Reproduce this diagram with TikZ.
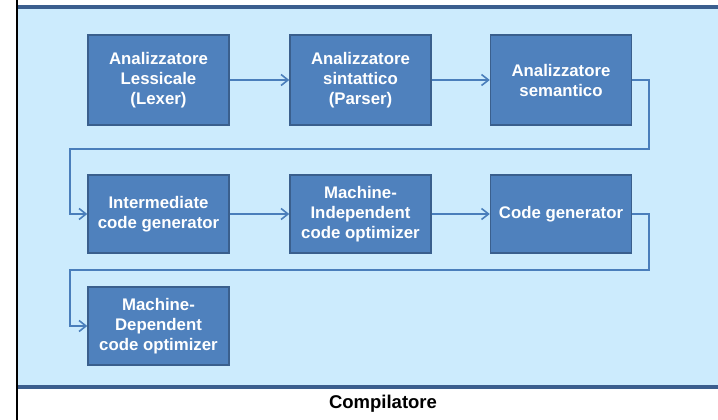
\documentclass[tikz,border=0pt]{standalone}
\usepackage{fontspec}
\setmainfont{Liberation Sans}
\usetikzlibrary{arrows.meta}
\definecolor{panelfill}{HTML}{CCEBFD}
\definecolor{panelline}{HTML}{3B5E8E}
\definecolor{boxfill}{HTML}{4F81BD}
\definecolor{boxline}{HTML}{3A5F8D}
\definecolor{linkcol}{HTML}{4A7EBB}
\tikzset{
  phase/.style={draw=boxline, line width=1.4pt, fill=boxfill, minimum width=141pt,
    minimum height=78pt, inner sep=0pt, text=white, align=center,
    font=\bfseries\fontsize{16.8}{20}\selectfont},
  tallphase/.style={phase, minimum height=90pt},
  link/.style={draw=linkcol, line width=1.8pt, -{Straight Barb[length=7pt,width=11pt,line width=1.6pt]}}
}
\begin{document}
\begin{tikzpicture}[x=1pt,y=-1pt]
  \useasboundingbox (0,0) rectangle (718,420);
  % light blue panel with dark top and bottom rules
  \fill[panelfill] (17,7) rectangle (718,387);
  \draw[panelline, line width=4pt] (17,7) -- (718,7);
  \draw[panelline, line width=4pt] (17,387) -- (718,387);
  \draw[black, line width=1.3pt] (17,0) -- (17,420);

  % compiler phases
  \node[tallphase] (lex) at (158.5,80) {Analizzatore\\Lessicale\\(Lexer)};
  \node[tallphase] (par) at (360.5,80) {Analizzatore\\sintattico\\(Parser)};
  \node[tallphase] (sem) at (561,80) {Analizzatore\\semantico};
  \node[phase] (icg) at (158.5,214) {Intermediate\\code generator};
  \node[phase] (mio) at (360.5,214) {Machine-\\Independent\\code optimizer};
  \node[phase] (cg) at (561,214) {Code generator};
  \node[phase] (mdo) at (158.5,326) {Machine-\\Dependent\\code optimizer};

  \coordinate (r1) at (649,149);
  \coordinate (l1) at (70,149);
  \coordinate (r2) at (649,270);
  \coordinate (l2) at (70,270);

  \draw[link] (lex.east) -- (par.west);
  \draw[link] (par.east) -- (sem.west);
  \draw[link] (sem.east) -- (sem.east -| r1) -- (r1) -- (l1) -- (l1 |- icg.west) -- (icg.west);
  \draw[link] (icg.east) -- (mio.west);
  \draw[link] (mio.east) -- (cg.west);
  \draw[link] (cg.east) -- (cg.east -| r2) -- (r2) -- (l2) -- (l2 |- mdo.west) -- (mdo.west);

  \node[font=\bfseries\fontsize{18.5}{20}\selectfont] (cap) at (383,404) {Compilatore};
\end{tikzpicture}
\end{document}
